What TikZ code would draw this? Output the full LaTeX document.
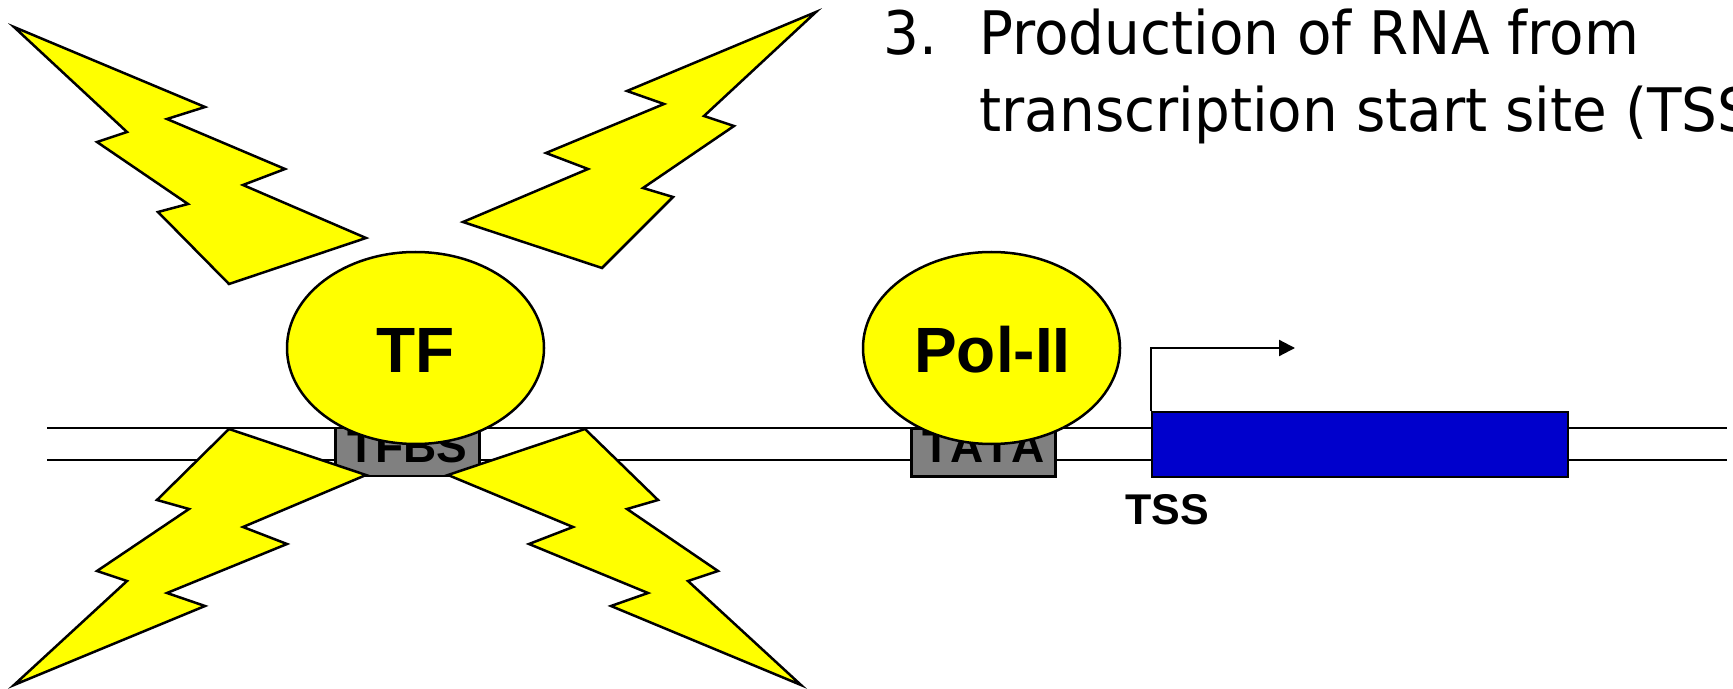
\documentclass[tikz,border=0pt]{standalone}
\usepackage{fontspec}
\setmainfont{Liberation Sans}
\newfontfamily\headfont[FakeStretch=0.94]{DejaVu Sans}
\usetikzlibrary{shapes.geometric,arrows.meta}
\definecolor{boltyellow}{HTML}{FFFF00}
\definecolor{genegrey}{HTML}{808080}
\definecolor{geneblue}{HTML}{0000CC}
\tikzset{
  strand/.style={draw=black,line width=1pt},
  bolt/.style={draw=black,fill=boltyellow,line width=1.25pt,line join=miter,miter limit=10},
  protein/.style={ellipse,draw=black,fill=boltyellow,line width=1.25pt,inner sep=0pt,minimum width=128.5pt,minimum height=96pt},
  proteinlabel/.style={font=\fontsize{32pt}{32pt}\selectfont\bfseries,anchor=base,inner sep=0pt},
  sitebox/.style={rectangle,draw=black,fill=genegrey,line width=1.25pt,inner sep=0pt,minimum width=72pt,minimum height=24pt},
  sitelabel/.style={font=\addfontfeatures{Kerning=Off}\fontsize{23pt}{23pt}\selectfont\bfseries,anchor=base,inner sep=0pt},
  genebox/.style={rectangle,draw=black,fill=geneblue,line width=1.25pt,inner sep=0pt,minimum width=208pt,minimum height=32.5pt},
  heading/.style={font=\headfont\fontsize{30pt}{30pt}\selectfont,anchor=base west,inner sep=0pt}
}
\begin{document}
\begin{tikzpicture}[x=0.5pt,y=-0.5pt]
\useasboundingbox (0,0) rectangle (1733,689);
% DNA strands
\coordinate (s1l) at (47,428.4);
\coordinate (s1r) at (1727,428.4);
\coordinate (s2l) at (47,460.2);
\coordinate (s2r) at (1727,460.2);
\draw[strand] (s1l) -- (s1r);
\draw[strand] (s2l) -- (s2r);
% sites
\node[sitebox] (tfbs) at (407.5,452) {};
\node[sitelabel] (tfbslabel) at (407.5,462) {TFBS};
\node[sitebox] (tatabox) at (983.5,452.5) {};
\node[sitelabel] (tatalabel) at (983.5,462) {TATA};
% gene
\node[genebox] (gene) at (1360,444.5) {};
\coordinate (arrowend) at (1295,348);
\draw[line width=1.1pt,-{Triangle[length=8pt,width=8pt]}] (gene.north west) |- (arrowend);
\node[font=\fontsize{21.5pt}{21.5pt}\selectfont\bfseries,anchor=base,inner sep=0pt] (tss) at (1167.5,524) {TSS};
% proteins
\node[protein] (tf) at (415.5,348) {};
\node[proteinlabel] (tflabel) at (415.5,372) {TF};
\node[protein] (pol) at (991.5,348) {};
\node[proteinlabel] (pollabel) at (992.5,372) {Pol-II};
% lightning bolts
\draw[bolt] (14,27) -- (205,107) -- (167,119) -- (285,169) -- (243,185) -- (366,238) -- (229,284) -- (158,212) -- (188,204) -- (97,142) -- (127,132) -- cycle;
\draw[bolt] (816,12) -- (627,91) -- (664,104) -- (546,153) -- (588,169) -- (463,222) -- (602,268) -- (673,197) -- (643,188) -- (734,126) -- (704,116) -- cycle;
\draw[bolt] (14,685) -- (205,606) -- (167,593) -- (287,544) -- (243,527) -- (366,475) -- (229,429) -- (157,500) -- (189,509) -- (97,571) -- (127,581) -- cycle;
\draw[bolt] (801,685) -- (611,606) -- (648,593) -- (529,544) -- (573,527) -- (448,475) -- (585,429) -- (658,500) -- (627,509) -- (718,571) -- (688,581) -- cycle;
% heading
\node[heading] (num) at (883,55) {3.};
\node[heading] (line1) at (979,55) {Production of RNA from};
\node[heading] (line2) at (979,132) {transcription start site (TSS};
\end{tikzpicture}
\end{document}
